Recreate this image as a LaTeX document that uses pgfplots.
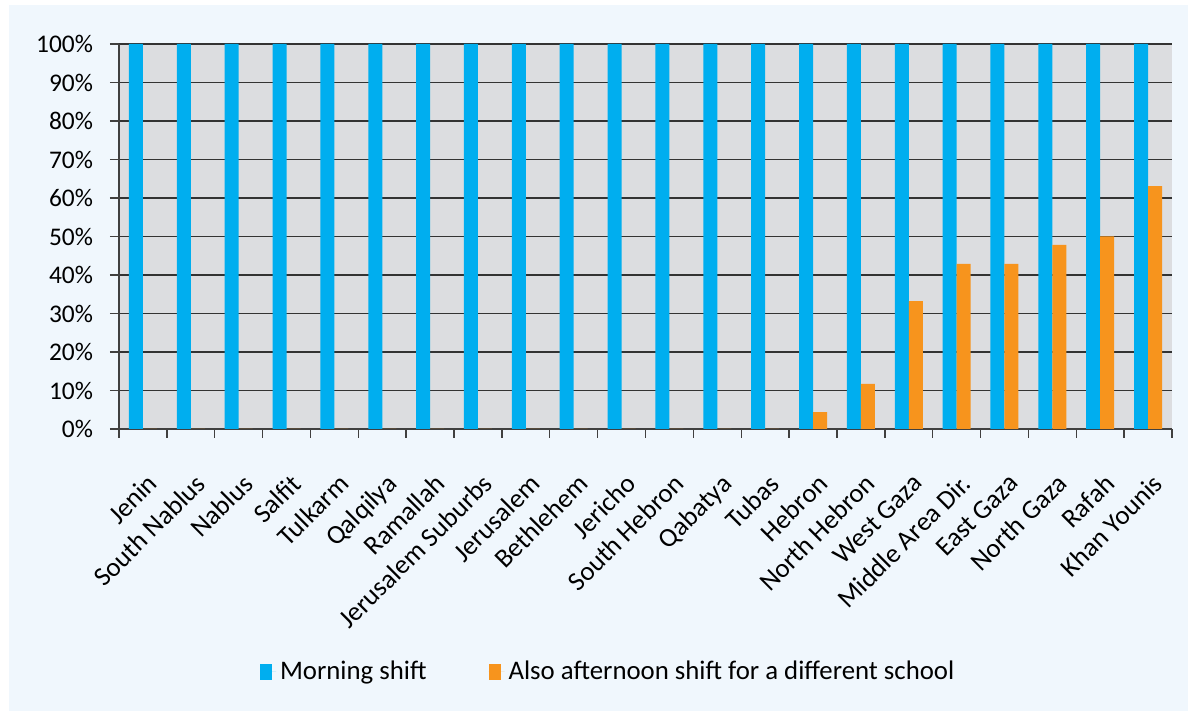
\documentclass[border=0pt]{standalone}
\usepackage{fontspec}
\setmainfont{Carlito}
\usepackage{pgfplots}
\pgfplotsset{compat=1.18}
\definecolor{bgc}{HTML}{F0F7FD}
\definecolor{plotbg}{HTML}{DCDDE0}
\definecolor{cblue}{HTML}{00AEEF}
\definecolor{corange}{HTML}{F7941D}
\begin{document}
\begin{tikzpicture}
\fill[white] (0,0) rectangle (594pt,355.5pt);
\fill[bgc] (4.5pt,0) rectangle (594pt,353pt);
\begin{axis}[
  at={(59.5pt,141pt)}, anchor=south west,
  width=526.5pt, height=192.5pt, scale only axis,
  axis x line*=bottom, axis y line*=left,
  axis background/.style={fill=plotbg},
  ybar=0pt, bar width=7pt,
  xmin=-0.5, xmax=21.5, ymin=0, ymax=100,
  xtick={0,...,21},
  xticklabels={Jenin,South Nablus,Nablus,Salfit,Tulkarm,Qalqilya,Ramallah,Jerusalem Suburbs,Jerusalem,Bethlehem,Jericho,South Hebron,Qabatya,Tubas,Hebron,North Hebron,West Gaza,Middle Area Dir.,East Gaza,North Gaza,Rafah,Khan Younis},
  major x tick style={draw=none},
  minor xtick={-0.5,0.5,...,21.5},
  minor tick length=4.5pt,
  tick align=outside,
  xticklabel style={rotate=45, anchor=north east, font=\fontsize{13.4}{14}\selectfont, inner sep=1pt, yshift=-12pt, xshift=-10pt},
  ytick={0,10,...,100},
  major tick length=4.5pt,
  yticklabel={\pgfmathprintnumber{\tick}\%},
  yticklabel style={font=\fontsize{12.7}{13}\selectfont, xshift=-5pt},
  /pgf/number format/assume math mode=true,
  ymajorgrids, grid style={black!80, line width=0.7pt},
  axis line style={black!75, line width=0.8pt},
  tick style={black!75, line width=0.7pt},
  legend style={at={(0.4655,-0.631)}, anchor=center, draw=none, fill=none, legend columns=2,
    font=\fontsize{13.4}{14}\selectfont, /tikz/every even column/.append style={column sep=29pt}},
  legend image code/.code={\fill[#1] (0pt,-4pt) rectangle (6pt,4pt); \path (0pt,0pt) -- (8pt,0pt);},
]
\addplot[fill=cblue, draw=none] coordinates {(0,100)(1,100)(2,100)(3,100)(4,100)(5,100)(6,100)(7,100)(8,100)(9,100)(10,100)(11,100)(12,100)(13,100)(14,100)(15,100)(16,100)(17,100)(18,100)(19,100)(20,100)(21,100)};
\addplot[fill=corange, draw=none] coordinates {(0,0)(1,0)(2,0)(3,0)(4,0)(5,0)(6,0)(7,0)(8,0)(9,0)(10,0)(11,0)(12,0)(13,0)(14,4.4)(15,11.7)(16,33.2)(17,42.9)(18,42.9)(19,47.8)(20,50)(21,63.1)};
\legend{Morning shift, Also afternoon shift for a different school}
\end{axis}
\end{tikzpicture}
\end{document}
